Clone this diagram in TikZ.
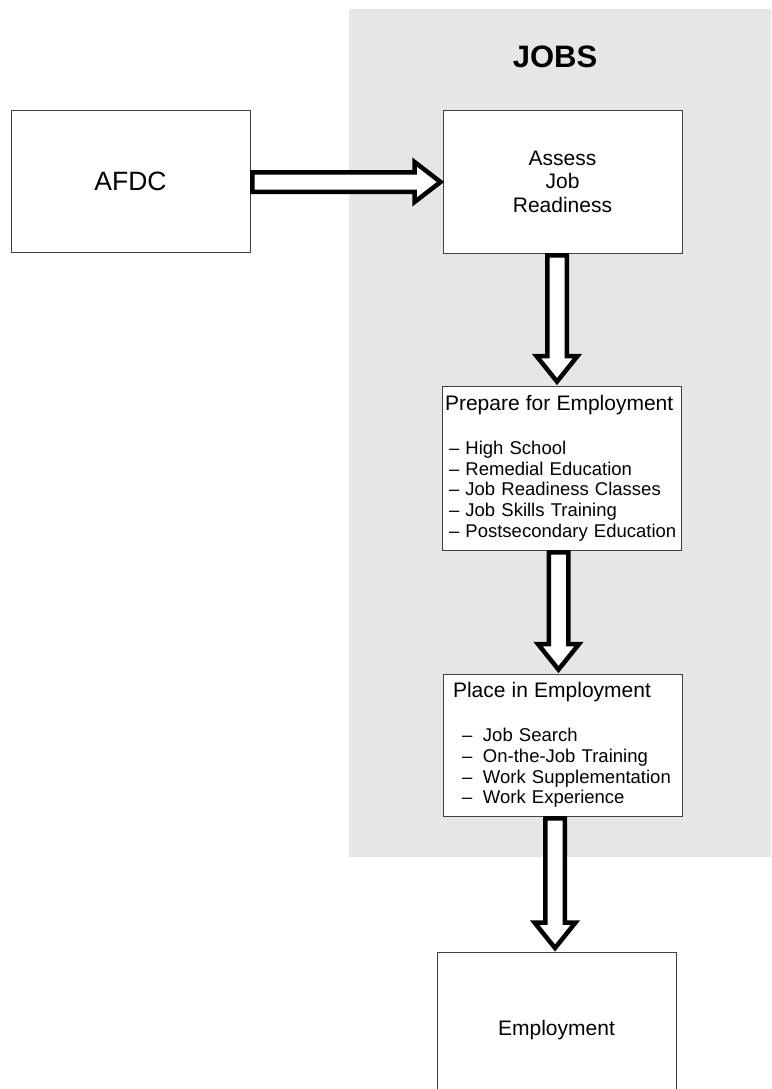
\documentclass[tikz,border=0pt]{standalone}
\usepackage{fontspec}
\setmainfont{Liberation Sans}
\usepackage{tikz}
\usetikzlibrary{calc}
\usepackage{xcolor}
\definecolor{jobsgray}{RGB}{229,230,232}

\begin{document}
\begin{tikzpicture}[x=1pt,y=-1pt,line join=miter,
  box/.style={draw=black!75,line width=0.9pt,fill=white,minimum width=239pt,inner sep=0pt},
  listbox/.style={box,align=left,inner xsep=3pt,text width=233pt,font=\fontsize{18.5}{20.75}\selectfont},
  fatarrow/.style={draw=black,line width=4.5pt,fill=white,miter limit=10}]
\useasboundingbox (0,0) rectangle (771,1089);
\begin{scope}
\clip (0,0) rectangle (771,1089);
\fill[jobsgray] (349,9) rectangle (771,857);
\node[font=\fontsize{31}{36}\selectfont\bfseries] (jobs) at (555,57) {JOBS};
\node[box,minimum height=142pt,font=\fontsize{26.5}{30}\selectfont] (afdc) at (130.5,181) {AFDC};
\node[box,minimum height=143pt,align=center,font=\fontsize{21}{23.5}\selectfont] (assess) at (562.5,181.5) {Assess\\Job\\Readiness};
\node[listbox,minimum height=164pt] (prep) at (561.5,468)
  {{\fontsize{21}{24}\selectfont Prepare for Employment}\\[23.4pt]
   \hspace*{4pt}\textendash{} High School\\
   \hspace*{4pt}\textendash{} Remedial Education\\
   \hspace*{4pt}\textendash{} Job Readiness Classes\\
   \hspace*{4pt}\textendash{} Job Skills Training\\
   \hspace*{4pt}\textendash{} Postsecondary Education};
\node[listbox,minimum height=142pt] (place) at (562.5,745)
  {\hspace*{7pt}{\fontsize{21}{24}\selectfont Place in Employment}\\[23.4pt]
   \hspace*{16pt}\textendash\hspace{10.7pt}Job Search\\
   \hspace*{16pt}\textendash\hspace{10.7pt}On-the-Job Training\\
   \hspace*{16pt}\textendash\hspace{10.7pt}Work Supplementation\\
   \hspace*{16pt}\textendash\hspace{10.7pt}Work Experience};
\node[box,minimum height=156pt,anchor=north,font=\fontsize{21}{24}\selectfont] (employ) at (556.5,952) {Employment};
\draw[fatarrow] let \p1=($(afdc.east)+(0,1)$), \p2=(assess.west) in
  (\x1+2pt,\y1+9.75pt) -- (\x2-28pt,\y1+9.75pt) -- (\x2-28pt,\y1+20pt) -- (\x2-2pt,\y1)
  -- (\x2-28pt,\y1-20pt) -- (\x2-28pt,\y1-9.75pt) -- (\x1+2pt,\y1-9.75pt) -- cycle;
\draw[fatarrow] let \p1=($(assess.south)+(-5.5,0)$), \p2=(prep.north) in
  (\x1-9.75pt,\y1-2pt) -- (\x1-9.75pt,\y2+29.5pt) -- (\x1-20.5pt,\y2+29.5pt) -- (\x1,\y2+4pt)
  -- (\x1+20.5pt,\y2+29.5pt) -- (\x1+9.75pt,\y2+29.5pt) -- (\x1+9.75pt,\y1-2pt) -- cycle;
\draw[fatarrow] let \p1=($(prep.south)+(-3,0)$), \p2=(place.north) in
  (\x1-9.75pt,\y1-2pt) -- (\x1-9.75pt,\y2+29.5pt) -- (\x1-20.5pt,\y2+29.5pt) -- (\x1,\y2+4pt)
  -- (\x1+20.5pt,\y2+29.5pt) -- (\x1+9.75pt,\y2+29.5pt) -- (\x1+9.75pt,\y1-2pt) -- cycle;
\draw[fatarrow] let \p1=($(place.south)+(-7.5,0)$), \p2=(employ.north) in
  (\x1-9.75pt,\y1-2pt) -- (\x1-9.75pt,\y2+29.5pt) -- (\x1-20.5pt,\y2+29.5pt) -- (\x1,\y2+4pt)
  -- (\x1+20.5pt,\y2+29.5pt) -- (\x1+9.75pt,\y2+29.5pt) -- (\x1+9.75pt,\y1-2pt) -- cycle;
\end{scope}
\end{tikzpicture}
\end{document}
